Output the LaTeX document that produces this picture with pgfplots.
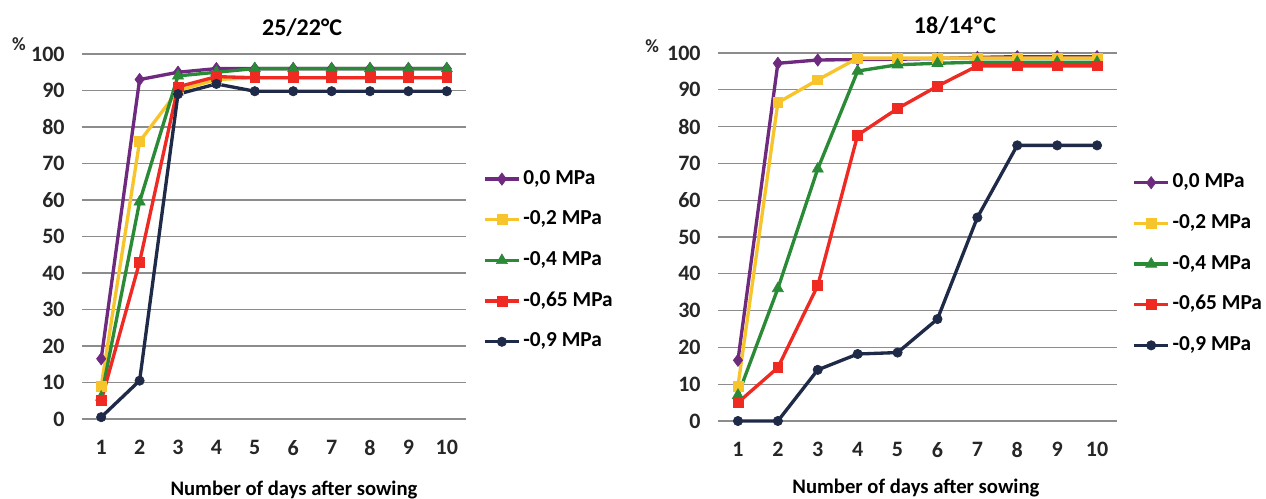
\documentclass[border=0pt]{standalone}
\usepackage{fontspec}
\setmainfont{Carlito}
\usepackage{pgfplots}
\pgfplotsset{compat=1.18}
\usepackage{pgfplotstable}

\definecolor{cPur}{HTML}{6E2A7E}
\definecolor{cYel}{HTML}{F7C52B}
\definecolor{cGrn}{HTML}{2A8A36}
\definecolor{cRed}{HTML}{EE2A22}
\definecolor{cNav}{HTML}{1E2A48}
\definecolor{cGrid}{HTML}{8C8C8C}

\pgfplotstableread{
day p0 p2 p4 p65 p9
1 16.5 9 6 5 0.5
2 93 76 59.5 43 10.5
3 95 90 94 91 89
4 96 93 95 93.8 91.8
5 96 93.5 96 93.5 89.8
6 96 93.5 96 93.5 89.8
7 96 93.5 96 93.5 89.8
8 96 93.5 96 93.5 89.8
9 96 93.5 96 93.5 89.8
10 96 93.5 96 93.5 89.8
}\warmtable

\pgfplotstableread{
day p0 p2 p4 p65 p9
1 16.5 9.5 7 5 0
2 97.2 86.5 36 14.5 0
3 98.1 92.7 68.5 36.8 13.9
4 98.2 98.6 95.1 77.7 18.2
5 98.3 98.6 96.8 84.9 18.6
6 98.5 98.6 97.2 91 27.7
7 98.8 98.6 97.5 96.5 55.3
8 99 98.6 97.5 96.5 74.9
9 99 98.6 97.5 96.5 74.9
10 99 98.6 97.5 96.5 74.9
}\coldtable

\pgfplotsset{
  myaxis/.style={
    scale only axis, anchor=south west,
    xmin=0.5, xmax=10.5, ymin=0, ymax=100,
    xtick={1,...,10}, ytick={0,10,...,100},
    axis line style={draw=none}, major tick length=0pt,
    ymajorgrids, grid style={cGrid, line width=0.8pt},
    tick label style={font=\fontsize{16.5}{18}\selectfont\bfseries, text=black!85},
    /pgf/number format/assume math mode=true,
    yticklabel style={xshift=-9.5pt},
    xticklabel style={yshift=-12.5pt},
    legend cell align=left,
    legend style={draw=none, fill=none, inner sep=0pt, anchor=north west,
      font=\fontsize{16}{18}\selectfont\bfseries, row sep=13pt,
      nodes={inner sep=2pt, text height=10.5pt, text depth=3pt}},
    legend image code/.code={\draw[mark repeat=2,mark phase=2] plot coordinates {(0cm,0cm)(0.45cm,0cm)(0.9cm,0cm)};},
    every axis plot/.append style={line width=2.5pt},
    clip=false,
  },
  sPur/.style={cPur, mark=diamond*, mark size=4.6pt, mark options={solid, line width=0.5pt}},
  sYel/.style={cYel, mark=square*, mark size=3.7pt, mark options={solid, line width=0.5pt}},
  sGrn/.style={cGrn, mark=triangle*, mark size=4.8pt, mark options={solid, line width=0.5pt}},
  sRed/.style={cRed, mark=square*, mark size=3.7pt, mark options={solid, line width=0.5pt}},
  sNav/.style={cNav, mark=*, mark size=3.5pt, mark options={solid, line width=0.5pt}},
}

\begin{document}
\begin{tikzpicture}
\useasboundingbox (0,0) rectangle (949.5pt,374.25pt);

\begin{axis}[myaxis,
  at={(61.5pt,60pt)}, width=288pt, height=273.75pt,
  xlabel={Number of days after sowing},
  xlabel style={at={(axis description cs:0.552,0)}, anchor=base, yshift=-57.5pt, font=\fontsize{15.5}{17}\selectfont\bfseries},
  legend style={at={(axis description cs:1.044,0.69)}},
]
\addplot[sPur] table[x=day,y=p0] {\warmtable};
\addplot[sYel] table[x=day,y=p2] {\warmtable};
\addplot[sGrn] table[x=day,y=p4] {\warmtable};
\addplot[sRed] table[x=day,y=p65] {\warmtable};
\addplot[sNav] table[x=day,y=p9] {\warmtable};
\legend{{0,0 MPa},{-0,2 MPa},{-0,4 MPa},{-0,65 MPa},{-0,9 MPa}}
\node[font=\fontsize{18}{20}\selectfont\bfseries, anchor=base, text=black] at (axis description cs:0.573,1.052) {25/22°C};
\node[font=\fontsize{14}{16}\selectfont\bfseries, text=black!85] at (axis description cs:-0.164,1.027) {\%};
\end{axis}

\begin{axis}[myaxis,
  at={(538.5pt,58.5pt)}, width=299.25pt, height=276pt,
  xlabel={Number of days after sowing},
  xlabel style={at={(axis description cs:0.496,0)}, anchor=base, yshift=-54pt, font=\fontsize{15.5}{17}\selectfont\bfseries},
  legend style={at={(axis description cs:1.038,0.68)}},
]
\addplot[sPur] table[x=day,y=p0] {\coldtable};
\addplot[sYel] table[x=day,y=p2] {\coldtable};
\addplot[sGrn] table[x=day,y=p4] {\coldtable};
\addplot[sRed] table[x=day,y=p65] {\coldtable};
\addplot[sNav] table[x=day,y=p9] {\coldtable};
\legend{{0,0 MPa},{-0,2 MPa},{-0,4 MPa},{-0,65 MPa},{-0,9 MPa}}
\node[font=\fontsize{18}{20}\selectfont\bfseries, anchor=base, text=black] at (axis description cs:0.594,1.054) {18/14ºC};
\node[font=\fontsize{14}{16}\selectfont\bfseries, text=black!85] at (axis description cs:-0.165,1.019) {\%};
\end{axis}
\end{tikzpicture}
\end{document}
